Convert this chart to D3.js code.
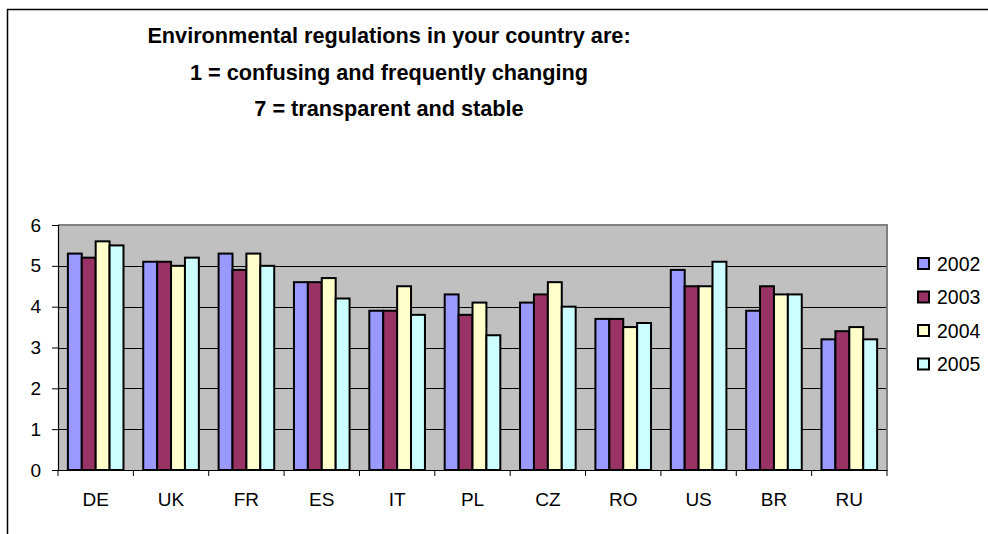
<!DOCTYPE html>
<html>
<head>
<meta charset="utf-8">
<script src="https://cdn.jsdelivr.net/npm/d3@7"></script>
<style>
  html, body { margin: 0; padding: 0; background: #fff; }
  svg { display: block; font-family: "Liberation Sans", Arial, sans-serif; }
</style>
</head>
<body>
<svg id="chart" width="988" height="534"></svg>
<script>
const titleLines = [
  "Environmental regulations in your country are:",
  "1 = confusing and frequently changing",
  "7 = transparent and stable"
];
const categories = ["DE", "UK", "FR", "ES", "IT", "PL", "CZ", "RO", "US", "BR", "RU"];
const seriesNames = ["2002", "2003", "2004", "2005"];
const values2002 = [5.3, 5.1, 5.3, 4.6, 3.9, 4.3, 4.1, 3.7, 4.9, 3.9, 3.2];
const values2003 = [5.2, 5.1, 4.9, 4.6, 3.9, 3.8, 4.3, 3.7, 4.5, 4.5, 3.4];
const values2004 = [5.6, 5.0, 5.3, 4.7, 4.5, 4.1, 4.6, 3.5, 4.5, 4.3, 3.5];
const values2005 = [5.5, 5.2, 5.0, 4.2, 3.8, 3.3, 4.0, 3.6, 5.1, 4.3, 3.2];
const seriesColors = ["#9999FF", "#993366", "#FFFFCC", "#CCFFFF"];
const yTicks = [0, 1, 2, 3, 4, 5, 6];

const seriesValues = [values2002, values2003, values2004, values2005];
const data = categories.map((c, i) => ({
  cat: c,
  vals: seriesNames.map((s, j) => ({ key: s, value: seriesValues[j][i], color: seriesColors[j] }))
}));

const svg = d3.select("#chart");

// outer chart frame
svg.append("rect")
  .attr("x", 7.5).attr("y", 9.5)
  .attr("width", 1100).attr("height", 700)
  .attr("fill", "#fff").attr("stroke", "#000").attr("stroke-width", 1.5);

// title
const title = svg.append("text")
  .attr("text-anchor", "middle")
  .attr("font-weight", "bold")
  .attr("font-size", "21.7px")
  .attr("fill", "#000");
titleLines.forEach((t, i) => {
  title.append("tspan").attr("x", 389).attr("y", 43 + i * 36.5).text(t);
});

const pLeft = 58, pRight = 887, pTop = 225, pBottom = 470;

const x = d3.scaleBand().domain(categories).range([pLeft, pRight]).paddingInner(0).paddingOuter(0);
const xSub = d3.scaleBand().domain(seriesNames).range([0, x.bandwidth()]).paddingInner(0).paddingOuter(0.71);
const y = d3.scaleLinear().domain([0, 6]).range([pBottom, pTop]);

// plot area background
svg.append("rect")
  .attr("x", pLeft).attr("y", pTop)
  .attr("width", pRight - pLeft).attr("height", pBottom - pTop)
  .attr("fill", "#C0C0C0");

// gridlines
svg.append("g")
  .selectAll("line")
  .data(yTicks.filter(v => v > 0 && v < 6))
  .join("line")
  .attr("x1", pLeft).attr("x2", pRight)
  .attr("y1", d => Math.round(y(d)) + 0.5).attr("y2", d => Math.round(y(d)) + 0.5)
  .attr("stroke", "#000").attr("stroke-width", 1);

// plot border top/right (gray)
svg.append("path")
  .attr("d", `M${pLeft},${pTop} H${pRight} V${pBottom}`)
  .attr("fill", "none").attr("stroke", "#808080").attr("stroke-width", 2);

// bars
const groups = svg.append("g")
  .selectAll("g")
  .data(data)
  .join("g")
  .attr("transform", d => `translate(${x(d.cat)},0)`);
groups.selectAll("rect")
  .data(d => d.vals)
  .join("rect")
  .attr("x", d => xSub(d.key))
  .attr("y", d => y(d.value))
  .attr("width", xSub.bandwidth())
  .attr("height", d => y(0) - y(d.value))
  .attr("fill", d => d.color)
  .attr("stroke", "#000")
  .attr("stroke-width", 2);

// y axis
const yAxis = d3.axisLeft(y).tickValues(yTicks).tickSize(6).tickPadding(11).tickFormat(d3.format("d"));
const yg = svg.append("g").attr("transform", `translate(${pLeft},0)`).call(yAxis);
yg.select(".domain").attr("stroke", "#000").attr("stroke-width", 1.2);
yg.selectAll(".tick line").attr("stroke", "#000");
yg.selectAll(".tick text").attr("font-size", "19px").attr("fill", "#000")
  .attr("font-family", "'Liberation Sans', Arial, sans-serif");

// x axis
const xAxis = d3.axisBottom(x).tickSize(0).tickPadding(23);
const xg = svg.append("g").attr("transform", `translate(0,${pBottom})`).call(xAxis);
xg.select(".domain").attr("stroke", "#000").attr("stroke-width", 1.2);
xg.selectAll(".tick text").attr("font-size", "19px").attr("fill", "#000")
  .attr("font-family", "'Liberation Sans', Arial, sans-serif");
// category boundary ticks
const bounds = categories.map(c => x(c)).concat([pRight]);
xg.append("g").selectAll("line")
  .data(bounds)
  .join("line")
  .attr("x1", d => d).attr("x2", d => d)
  .attr("y1", 0).attr("y2", 6)
  .attr("stroke", "#000");

// legend
const legend = svg.append("g").attr("transform", "translate(918,258)");
const li = legend.selectAll("g")
  .data(seriesNames)
  .join("g")
  .attr("transform", (d, i) => `translate(0,${i * 33.5})`);
li.append("rect")
  .attr("x", 0).attr("y", 0).attr("width", 11).attr("height", 11)
  .attr("fill", (d, i) => seriesColors[i])
  .attr("stroke", "#000").attr("stroke-width", 2);
li.append("text")
  .attr("x", 19).attr("y", 12.5)
  .attr("font-size", "19.5px")
  .attr("fill", "#000")
  .text(d => d);
</script>
</body>
</html>
